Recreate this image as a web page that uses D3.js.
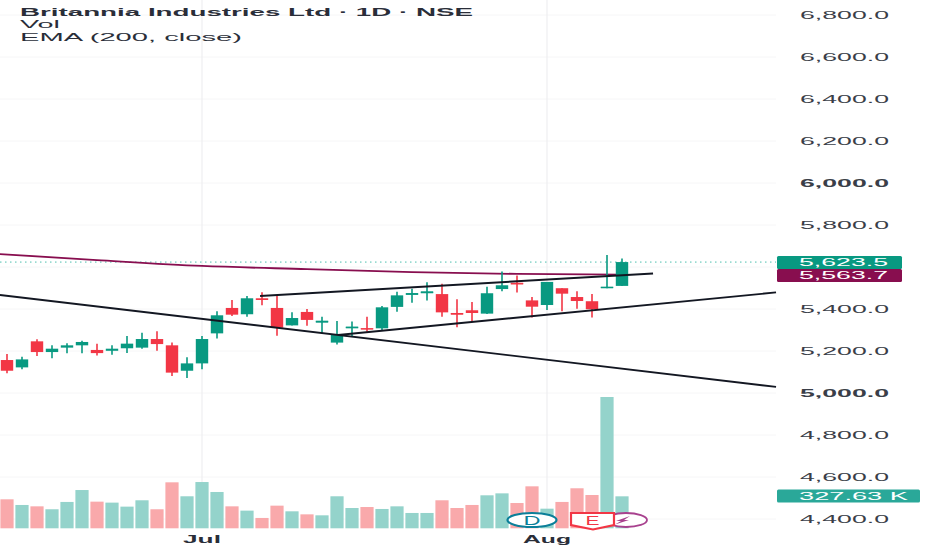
<!DOCTYPE html>
<html>
<head>
<meta charset="utf-8">
<script src="https://cdn.jsdelivr.net/npm/d3@7"></script>
<style>
  html, body { margin: 0; padding: 0; background: #fff; }
  svg { display: block; }
  text { font-family: "Liberation Sans", sans-serif; }
</style>
</head>
<body>
<div id="chart"></div>
<script>
const width = 932, height = 550;

// one row per daily bar
const opens  = [5157,5122,5246,5195,5216,5227,5205,5201,5213,5216,5257,5227,5106,5141,5284,5405,5375,5451,5405,5322,5386,5335,5240,5308,5308,5308,5410,5467,5475,5471,5381,5394,5378,5495,5525,5441,5419,5499,5457,5437,5499,5510];
const highs  = [5186,5173,5256,5227,5237,5249,5235,5227,5271,5287,5294,5240,5170,5271,5389,5443,5462,5480,5465,5384,5400,5363,5343,5341,5363,5414,5482,5497,5527,5520,5446,5433,5506,5578,5559,5457,5529,5499,5484,5471,5657,5640];
const lows   = [5094,5113,5176,5165,5189,5189,5178,5182,5190,5211,5201,5081,5071,5113,5259,5367,5363,5418,5273,5322,5320,5284,5231,5268,5292,5295,5387,5430,5440,5363,5313,5338,5376,5484,5478,5359,5395,5389,5401,5360,5499,5510];
const closes = [5106,5160,5195,5211,5227,5243,5190,5211,5235,5257,5233,5097,5141,5257,5370,5373,5451,5443,5311,5357,5348,5341,5278,5313,5305,5408,5465,5476,5481,5384,5376,5381,5475,5513,5520,5411,5529,5473,5438,5399,5503,5623.5];
const volumes = [297,239,225,195,270,392,273,263,222,287,195,471,328,474,372,225,181,106,232,174,143,133,328,208,218,198,225,157,157,287,208,239,338,358,259,430,201,270,410,341,1345,327.63];

const emaBars   = [-1,6,13,20,27,34,41];
const emaValues = [5664,5633,5605,5590,5576,5567,5563.7];

// hand drawn lines: [bar, price, bar, price]
const trendLines = [
  [-0.47,5467,51.27,5029],
  [16.87,5462,43.07,5569],
  [22.07,5276,51.27,5479]
];

const priceTicks = [6800,6600,6400,6200,6000,5800,5600,5400,5200,5000,4800,4600,4400];
const boldTicks  = [6000,5000];
const hiddenTicks = [5600]; // sits behind the value tags
const monthBars  = [13,36];
const monthNames = ["Jul","Aug"];
const legendLines = ["Britannia Industries Ltd · 1D · NSE","Vol","EMA (200, close)"];

const UP = "#089981", DOWN = "#f23645";
const UP_VOL = "#94d3cb", DOWN_VOL = "#f9a9ab";

const bars = opens.map((o, i) => ({i, o, h: highs[i], l: lows[i], c: closes[i], v: volumes[i]}));

const x = d3.scaleLinear().domain([0, 41]).range([7, 622]);
const y = d3.scaleLinear().domain([4400, 6800]).range([519, 15]);
const yVol = d3.scaleLinear().domain([0, 1345]).range([528.3, 397]);
const plotRight = 776;

const svg = d3.select("#chart").append("svg")
  .attr("width", width).attr("height", height)
  .attr("viewBox", [0, 0, width, height]);

// the source picture is stretched sideways, so text gets fitted to a width
function fit(sel, w) {
  return sel.attr("textLength", w).attr("lengthAdjust", "spacingAndGlyphs");
}

// grid
svg.append("g").selectAll("line").data(priceTicks).join("line")
  .attr("x1", 0).attr("x2", plotRight)
  .attr("y1", d => y(d)).attr("y2", d => y(d))
  .attr("stroke", "#f6f6f7");
svg.append("g").selectAll("line").data(monthBars).join("line")
  .attr("x1", d => x(d)).attr("x2", d => x(d))
  .attr("y1", 0).attr("y2", 528)
  .attr("stroke", "#eeeff1").attr("stroke-width", 1.2);

// volume
svg.append("g").selectAll("rect").data(bars).join("rect")
  .attr("x", d => x(d.i) - 6.6)
  .attr("width", 13.2)
  .attr("y", d => yVol(d.v))
  .attr("height", d => yVol(0) - yVol(d.v))
  .attr("fill", d => d.c >= d.o ? UP_VOL : DOWN_VOL);

// last price dotted line
svg.append("line")
  .attr("x1", 0).attr("x2", plotRight)
  .attr("y1", y(5623.5)).attr("y2", y(5623.5))
  .attr("stroke", "#4dbfae").attr("stroke-width", 1).attr("stroke-dasharray", "1.5 3.5");

// EMA
const emaLine = d3.line().x(d => x(d[0])).y(d => y(d[1])).curve(d3.curveMonotoneX);
svg.append("path")
  .attr("d", emaLine(emaBars.map((b, i) => [b, emaValues[i]])))
  .attr("fill", "none").attr("stroke", "#880e4f").attr("stroke-width", 1.8);

// candles
const candle = svg.append("g").selectAll("g").data(bars).join("g")
  .attr("fill", d => d.c >= d.o ? UP : DOWN)
  .attr("stroke", d => d.c >= d.o ? UP : DOWN);
candle.append("line")
  .attr("x1", d => x(d.i)).attr("x2", d => x(d.i))
  .attr("y1", d => y(d.h)).attr("y2", d => y(d.l))
  .attr("stroke-width", 1.6);
candle.append("rect")
  .attr("x", d => x(d.i) - 6.2)
  .attr("width", 12.4)
  .attr("y", d => y(Math.max(d.o, d.c)))
  .attr("height", d => Math.abs(y(d.o) - y(d.c)))
  .attr("stroke", "none");
candle.filter(d => Math.abs(y(d.o) - y(d.c)) < 1.5).append("line")
  .attr("x1", d => x(d.i) - 6.2).attr("x2", d => x(d.i) + 6.2)
  .attr("y1", d => y(d.c)).attr("y2", d => y(d.c))
  .attr("stroke-width", 1.4);

// trend lines
svg.append("g").selectAll("line").data(trendLines).join("line")
  .attr("x1", d => x(d[0])).attr("y1", d => y(d[1]))
  .attr("x2", d => x(d[2])).attr("y2", d => y(d[3]))
  .attr("stroke", "#131722").attr("stroke-width", 1.9);

// price axis
const axis = svg.append("g")
  .attr("transform", `translate(800,0.6)`)
  .call(d3.axisRight(y).tickValues(priceTicks.filter(d => !hiddenTicks.includes(d)))
    .tickSize(0).tickPadding(0)
    .tickFormat(d3.format(",.1f")));
axis.select(".domain").remove();
axis.selectAll("text")
  .attr("font-size", 10.5)
  .attr("fill", "#3a3e48")
  .attr("font-family", "Liberation Sans")
  .attr("font-weight", d => boldTicks.includes(d) ? "bold" : "normal")
  .call(fit, 89);

// month labels
svg.append("g").selectAll("text").data(monthBars).join("text")
  .attr("x", d => x(d)).attr("y", 543)
  .attr("text-anchor", "middle")
  .attr("font-size", 11).attr("font-weight", "bold").attr("fill", "#2a2e39")
  .text((d, i) => monthNames[i])
  .each(function(d, i) { fit(d3.select(this), i ? 48 : 38); });

// legend
svg.append("g").selectAll("text").data(legendLines).join("text")
  .attr("x", 20).attr("y", (d, i) => 15.5 + i * 12.8)
  .attr("font-size", 10.5).attr("fill", "#2a2e39")
  .attr("font-weight", (d, i) => i ? "normal" : "bold")
  .text(d => d)
  .each(function(d, i) { fit(d3.select(this), [453, 40, 222][i]); });

// value tags on the axis
const tags = [
  {label: "5,623.5", top: 256, fill: UP, tw: 89, w: 125},
  {label: "5,563.7", top: 269, fill: "#880e4f", tw: 89, w: 125},
  {label: "327.63 K", top: 489.5, fill: "#2aa899", tw: 109, w: 143}
];
const tag = svg.append("g").selectAll("g").data(tags).join("g");
tag.append("rect")
  .attr("x", 777).attr("width", d => d.w)
  .attr("y", d => d.top).attr("height", 13)
  .attr("rx", 1.5)
  .attr("fill", d => d.fill);
tag.append("text")
  .attr("x", 799).attr("y", d => d.top + 10.2)
  .attr("font-size", 10.5).attr("fill", "#fff")
  .text(d => d.label)
  .each(function(d) { fit(d3.select(this), d.tw); });

// event badges
const badges = svg.append("g");
badges.append("ellipse").attr("cx", 532).attr("cy", 520).attr("rx", 24.5).attr("ry", 7)
  .attr("fill", "#fff").attr("stroke", "#0b7f99").attr("stroke-width", 2.2);
fit(badges.append("text").attr("x", 532).attr("y", 524.5).attr("text-anchor", "middle")
  .attr("font-size", 12).attr("fill", "#0b7f99").text("D"), 17);
badges.append("ellipse").attr("cx", 626).attr("cy", 520).attr("rx", 21).attr("ry", 7)
  .attr("fill", "#fff").attr("stroke", "#a8418e").attr("stroke-width", 1.8);
badges.append("path")
  .attr("d", "M630 516 L616 521 L621 521 L615 524.5 L629 520 L624 520 Z")
  .attr("fill", "#a8418e");
badges.append("path")
  .attr("d", "M571 513 L614 513 L614 525 L593 529.5 L571 525 Z")
  .attr("fill", "#fff").attr("stroke", DOWN).attr("stroke-width", 2.2);
fit(badges.append("text").attr("x", 592.5).attr("y", 524.5).attr("text-anchor", "middle")
  .attr("font-size", 12).attr("fill", DOWN).text("E"), 14);
</script>
</body>
</html>
